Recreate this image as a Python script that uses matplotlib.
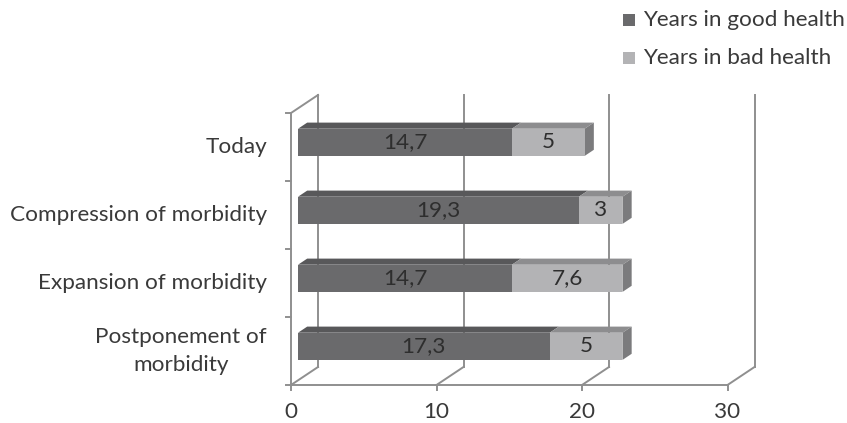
import matplotlib
matplotlib.use("Agg")
import matplotlib.pyplot as plt
from matplotlib.patches import Rectangle

plt.rcParams['font.family'] = ['Lato', 'DejaVu Sans']

# Data (first entry is the top bar)
categories = ["Today", "Compression of morbidity", "Expansion of morbidity",
              "Postponement of\nmorbidity"]
good_health = [14.7, 19.3, 14.7, 17.3]
bad_health = [5, 3, 7.6, 5]
good_labels = ["14,7", "19,3", "14,7", "17,3"]
bad_labels = ["5", "3", "7,6", "5"]
series_names = ["Years in good health", "Years in bad health"]
x_ticks = [0, 10, 20, 30]

# Colours
DARK_FRONT, DARK_TOP = "#6a6a6c", "#58585a"
LIGHT_FRONT, LIGHT_TOP, LIGHT_SIDE = "#b3b3b5", "#8d8d8f", "#7b7b7d"
GRID = "#8f8f8f"
TEXT = "#3a3a3a"

W, H = 847, 423
fig = plt.figure(figsize=(W / 100, H / 100), dpi=100)
ax = fig.add_axes([0, 0, 1, 1])
ax.set_axis_off()

# scale: pixels per unit on each axis
PX, PY = 14.55, 68.0
X0, Y0 = 291, 385
ax.set_xlim(-X0 / PX, (W - X0) / PX)
ax.set_ylim((Y0 - H) / PY, Y0 / PY)

# 3-D depth offset of the back wall, in data units
DX, DY = 27 / PX, 18 / PY
n = len(categories)
xmax = x_ticks[-1]

lw = 1.4
# back wall vertical gridlines and floor diagonals
for t in x_ticks:
    ax.plot([t + DX, t + DX], [DY, n + DY], color=GRID, lw=lw, zorder=1)
    ax.plot([t, t + DX], [0, DY], color=GRID, lw=lw, zorder=1)
    ax.plot([t, t], [0, -5 / PY], color=GRID, lw=lw, zorder=1)
# front floor line
ax.plot([0, xmax], [0, 0], color=GRID, lw=lw, zorder=1)
# front left axis and top diagonal
ax.plot([0, 0], [0, n], color=GRID, lw=lw, zorder=1)
ax.plot([0, DX], [n, n + DY], color=GRID, lw=lw, zorder=1)
for k in range(n + 1):
    ax.plot([0, -5 / PX], [k, k], color=GRID, lw=lw, zorder=1)

# bars
F0, F1 = 0.26, 0.60
BH = 0.4


def box(x_start, x_end, yc, front, top, side=None):
    xa, xb = x_start + F0 * DX, x_end + F0 * DX
    ya, yb = yc - BH / 2 + F0 * DY, yc + BH / 2 + F0 * DY
    ddx, ddy = (F1 - F0) * DX, (F1 - F0) * DY
    ax.fill([xa, xb, xb + ddx, xa + ddx], [yb, yb, yb + ddy, yb + ddy],
            color=top, lw=0, zorder=3)
    if side is not None:
        ax.fill([xb, xb + ddx, xb + ddx, xb], [ya, ya + ddy, yb + ddy, yb],
                color=side, lw=0, zorder=3)
    ax.fill([xa, xb, xb, xa], [ya, ya, yb, yb], color=front, lw=0, zorder=4)
    return (xa + xb) / 2, (ya + yb) / 2


FS = 16.2
for i, cat in enumerate(categories):
    yc = n - 1 - i + 0.5
    g, b = good_health[i], bad_health[i]
    cx, cy = box(0, g, yc, DARK_FRONT, DARK_TOP)
    ax.text(cx, cy, good_labels[i], ha="center", va="center", fontsize=FS,
            color="#2e2e2e", zorder=5)
    cx, cy = box(g, g + b, yc, LIGHT_FRONT, LIGHT_TOP, LIGHT_SIDE)
    ax.text(cx, cy, bad_labels[i], ha="center", va="center", fontsize=FS,
            color="#2e2e2e", zorder=5)
    ax.text(-24 / PX, yc, cat, ha="right", va="center", fontsize=FS,
            color=TEXT, multialignment="center", linespacing=1.45)

for t in x_ticks:
    ax.text(t, -27 / PY, str(t), ha="center", va="center", fontsize=FS,
            color=TEXT)

# legend
for j, (name, col) in enumerate(zip(series_names, [DARK_FRONT, LIGHT_FRONT])):
    ypix = 20 + 38 * j
    fig.patches.append(Rectangle((623 / W, 1 - (ypix + 6) / H), 12 / W, 12 / H,
                                 transform=fig.transFigure, color=col, lw=0))
    fig.text(643 / W, 1 - ypix / H, name, ha="left", va="center",
             fontsize=FS, color=TEXT)

fig.savefig("out.png", dpi=100, facecolor="white")
